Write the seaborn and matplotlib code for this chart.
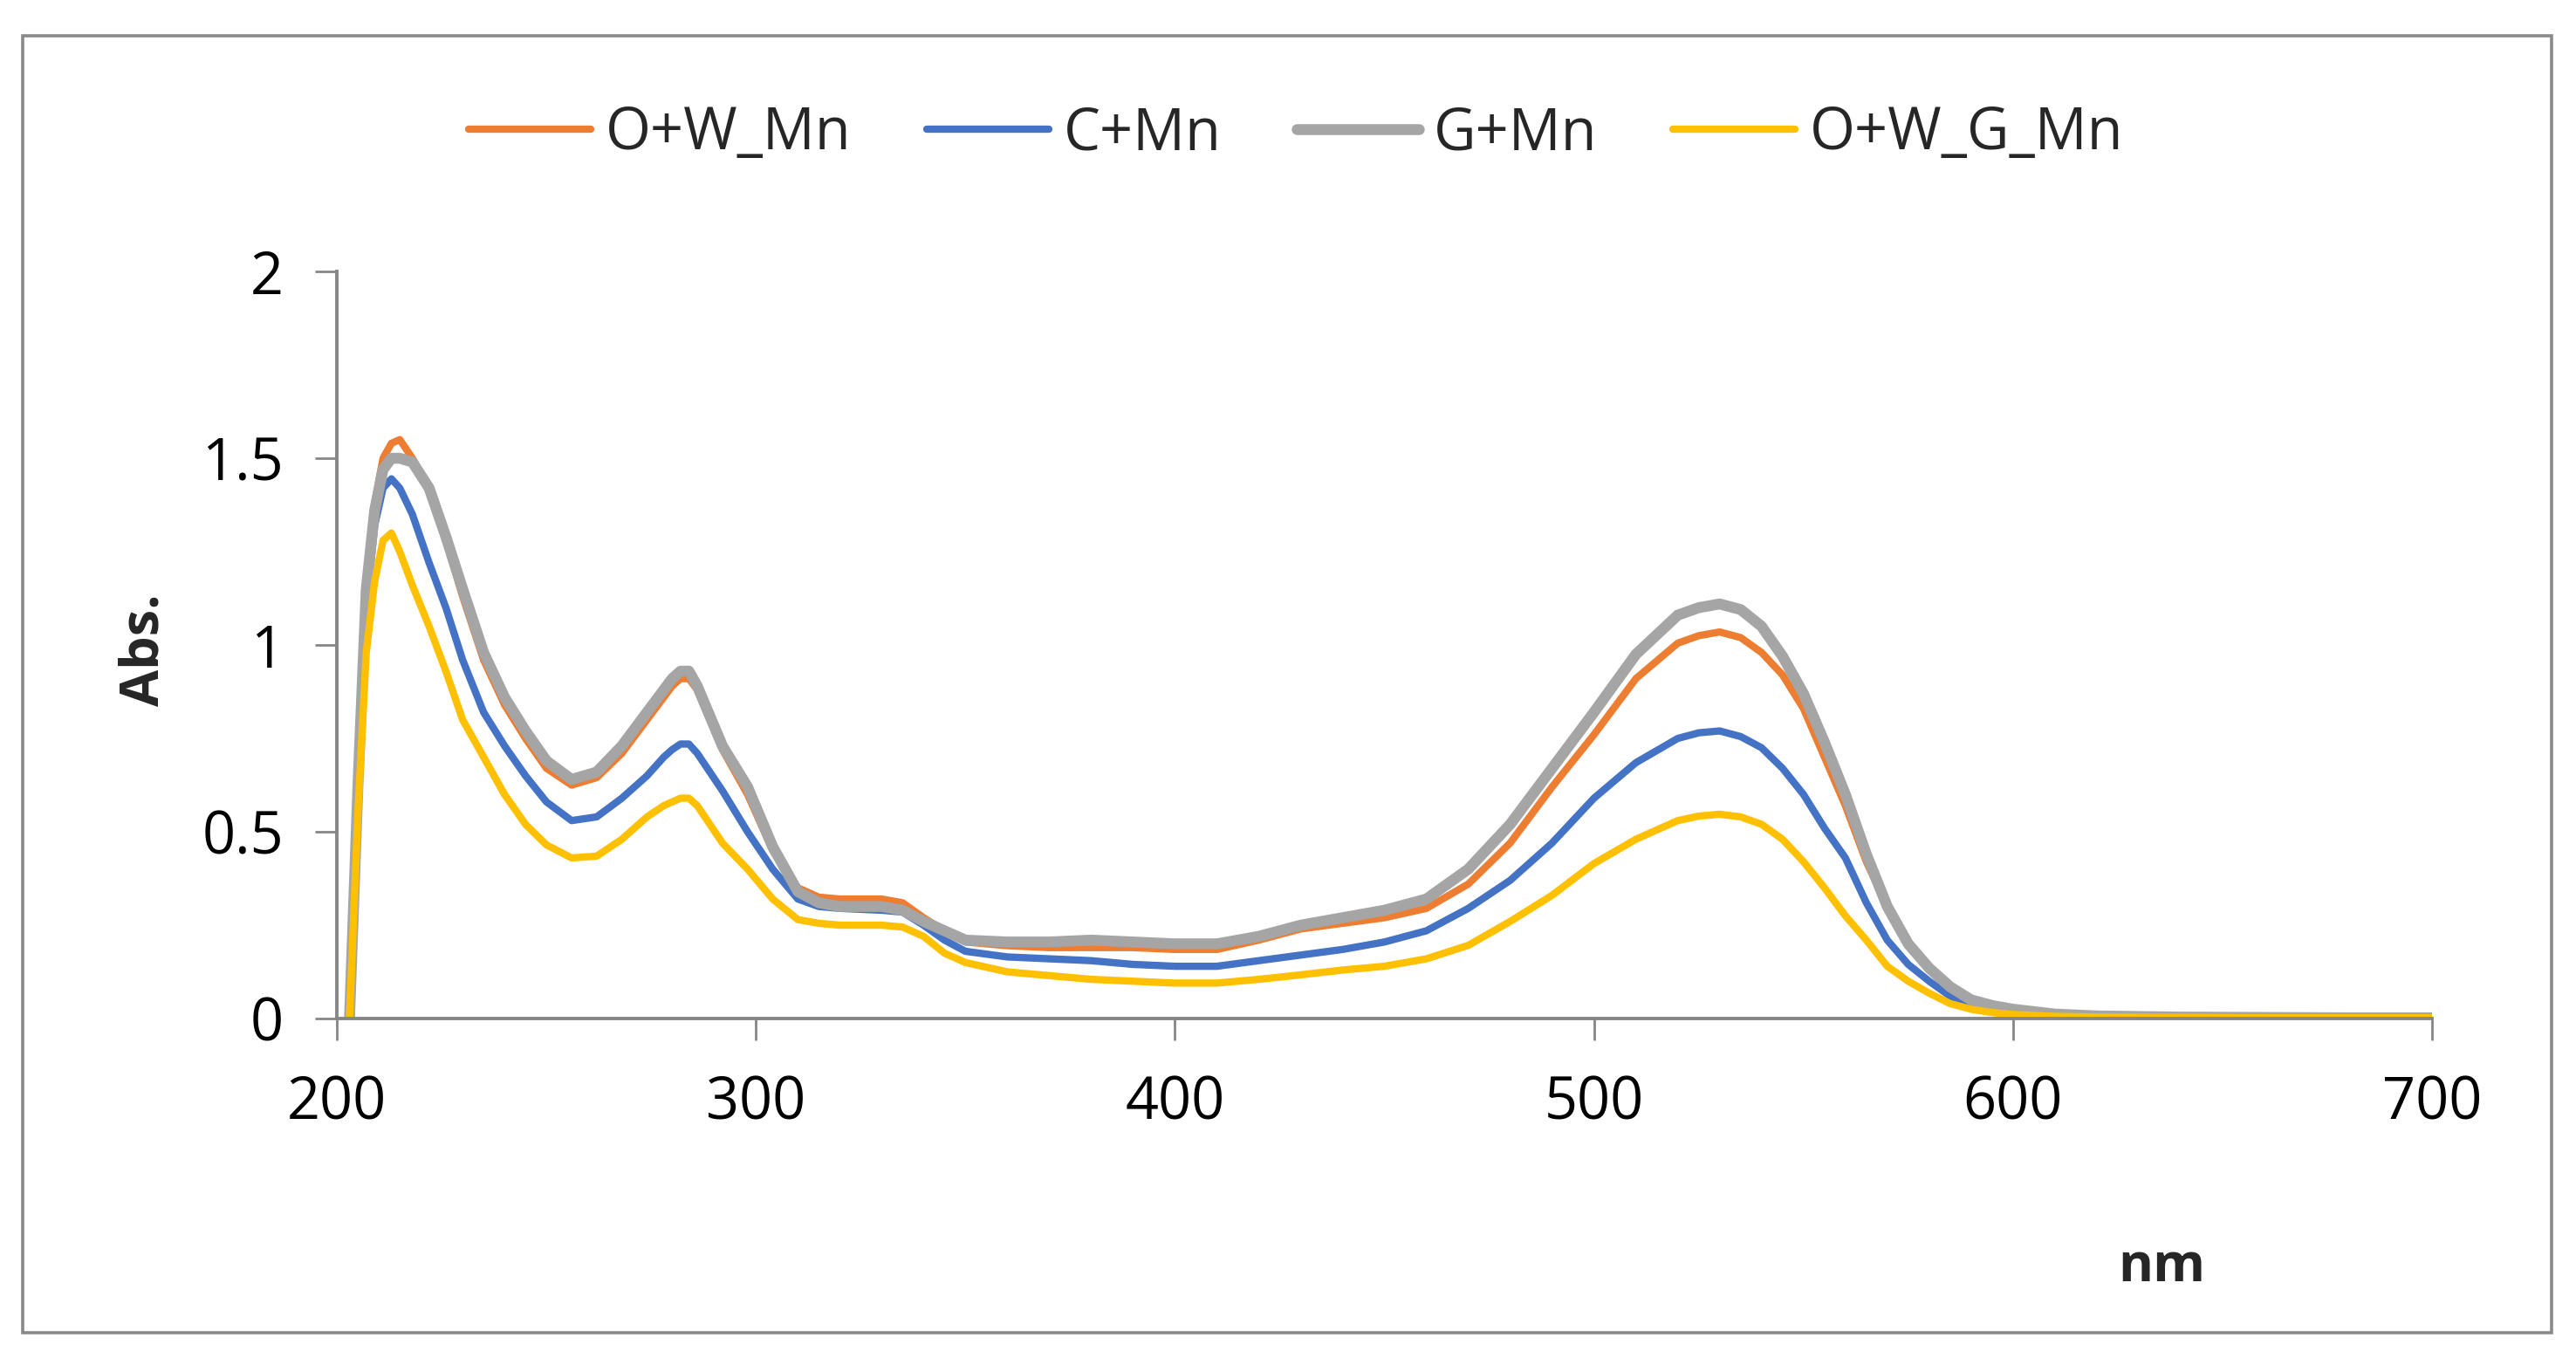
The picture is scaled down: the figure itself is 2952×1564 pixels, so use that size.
import matplotlib.pyplot as plt
import matplotlib as mpl
from matplotlib.patches import Rectangle
import pandas as pd
import seaborn as sns

# wavelength (nm) and absorbance
wavelength = [203, 205, 207, 209, 211, 213, 215, 218, 222, 226, 230, 235, 240, 245, 250,
              256, 262, 268, 274, 278, 280, 282, 284, 286, 292, 298, 304, 310, 315, 320, 330, 335,
              340, 345, 350, 360, 370, 380, 390, 400, 410, 420, 430, 440, 450, 460, 470,
              480, 490, 500, 510, 520, 525, 530, 535, 540, 545, 550, 555, 560, 565, 570,
              575, 580, 585, 590, 595, 600, 610, 620, 640, 660, 680, 700]

ow_mn = [0, 0.62, 1.15, 1.38, 1.50, 1.54, 1.55, 1.50, 1.42, 1.28, 1.13, 0.96, 0.84, 0.75, 0.67,
         0.625, 0.645, 0.71, 0.80, 0.86, 0.89, 0.91, 0.91, 0.88, 0.72, 0.60, 0.45, 0.35, 0.325, 0.32, 0.32, 0.31,
         0.27, 0.235, 0.205, 0.195, 0.19, 0.19, 0.19, 0.185, 0.185, 0.21, 0.24, 0.255, 0.27, 0.295, 0.36,
         0.47, 0.62, 0.76, 0.91, 1.005, 1.025, 1.035, 1.02, 0.98, 0.92, 0.83, 0.70, 0.57, 0.42, 0.30,
         0.20, 0.13, 0.08, 0.048, 0.032, 0.022, 0.011, 0.006, 0.004, 0.003, 0.002, 0.002]

c_mn = [0, 0.60, 1.10, 1.32, 1.42, 1.445, 1.42, 1.35, 1.22, 1.10, 0.96, 0.82, 0.73, 0.65, 0.58,
        0.53, 0.54, 0.59, 0.65, 0.70, 0.72, 0.735, 0.735, 0.71, 0.61, 0.50, 0.40, 0.32, 0.30, 0.295, 0.29, 0.285,
        0.25, 0.21, 0.18, 0.165, 0.16, 0.155, 0.145, 0.14, 0.14, 0.155, 0.17, 0.185, 0.205, 0.235, 0.295,
        0.37, 0.47, 0.59, 0.685, 0.75, 0.765, 0.77, 0.755, 0.725, 0.67, 0.60, 0.51, 0.43, 0.31, 0.21,
        0.145, 0.10, 0.06, 0.035, 0.022, 0.015, 0.008, 0.005, 0.003, 0.002, 0.002, 0.002]

g_mn = [0, 0.62, 1.15, 1.36, 1.47, 1.50, 1.50, 1.49, 1.42, 1.29, 1.15, 0.98, 0.86, 0.77, 0.69,
        0.64, 0.66, 0.73, 0.82, 0.88, 0.91, 0.93, 0.93, 0.89, 0.73, 0.62, 0.46, 0.34, 0.31, 0.30, 0.30, 0.29,
        0.26, 0.235, 0.21, 0.205, 0.205, 0.21, 0.205, 0.20, 0.20, 0.22, 0.25, 0.27, 0.29, 0.32, 0.40,
        0.52, 0.67, 0.82, 0.975, 1.08, 1.10, 1.11, 1.095, 1.05, 0.97, 0.87, 0.74, 0.60, 0.44, 0.30,
        0.20, 0.135, 0.085, 0.05, 0.035, 0.025, 0.012, 0.007, 0.004, 0.003, 0.002, 0.002]

owg_mn = [0, 0.55, 0.98, 1.17, 1.28, 1.30, 1.25, 1.16, 1.05, 0.93, 0.80, 0.70, 0.60, 0.52, 0.465,
          0.43, 0.435, 0.48, 0.54, 0.57, 0.58, 0.59, 0.59, 0.57, 0.47, 0.40, 0.32, 0.265, 0.255, 0.25, 0.25, 0.245,
          0.22, 0.175, 0.15, 0.125, 0.115, 0.105, 0.10, 0.095, 0.095, 0.105, 0.117, 0.13, 0.14, 0.16, 0.196,
          0.26, 0.33, 0.415, 0.48, 0.53, 0.542, 0.547, 0.54, 0.52, 0.48, 0.42, 0.35, 0.275, 0.21, 0.14,
          0.10, 0.068, 0.04, 0.025, 0.016, 0.011, 0.006, 0.004, 0.003, 0.002, 0.002, 0.002]

series = ["O+W_Mn", "C+Mn", "G+Mn", "O+W_G_Mn"]
colors = ["#ED7D31", "#4472C4", "#A5A5A5", "#FFC000"]
widths = [3.0, 3.0, 4.5, 3.0]

xticks = [200, 300, 400, 500, 600, 700]
yticks = [0, 0.5, 1, 1.5, 2]
ytick_labels = ["0", "0.5", "1", "1.5", "2"]

sns.set_theme(style="white")
plt.rcParams["font.family"] = ["Open Sans", "DejaVu Sans"]
plt.rcParams["lines.solid_joinstyle"] = "round"
plt.rcParams["lines.solid_capstyle"] = "round"
AXIS = "#868686"

fig = plt.figure(figsize=(14.76, 7.82), dpi=200)
ax = fig.add_axes([0.1308, 0.2538, 0.8133, 0.5473])

for name, vals, col, lw in zip(series, [ow_mn, c_mn, g_mn, owg_mn], colors, widths):
    df = pd.DataFrame({"nm": wavelength, "abs": vals})
    sns.lineplot(data=df, x="nm", y="abs", color=col, linewidth=lw, label=name, ax=ax)

ax.set_xlim(200, 700)
ax.set_ylim(0, 2)
ax.set_xticks(xticks)
ax.set_xticklabels([str(t) for t in xticks])
ax.set_yticks(yticks)
ax.set_yticklabels(ytick_labels)
ax.tick_params(axis="both", which="major", labelsize=24, colors=AXIS, labelcolor="black",
               length=9, width=1.0, direction="out", bottom=True, left=True)
ax.tick_params(axis="y", pad=13)
ax.tick_params(axis="x", pad=14)

for s in ["top", "right"]:
    ax.spines[s].set_visible(False)
for s in ["left", "bottom"]:
    ax.spines[s].set_color(AXIS)
    ax.spines[s].set_linewidth(1.4)
ax.spines["left"].set_zorder(0.5)

ax.set_ylabel("Abs.", fontsize=22, fontweight="bold", va="center")
ax.yaxis.set_label_coords(-0.0916, 0.494)
ax.set_xlabel("nm", fontsize=22, fontweight="bold", va="center")
ax.xaxis.set_label_coords(0.871, -0.334)

ax.legend(loc="center", bbox_to_anchor=(0.503, 0.902), bbox_transform=fig.transFigure,
          ncol=4, frameon=False, fontsize=24, handlelength=2.1, handletextpad=0.25,
          columnspacing=1.3)

fig.patches.append(Rectangle((26 / 2952, 1 - 1527 / 1564), (2924 - 26) / 2952, (1527 - 41) / 1564,
                             transform=fig.transFigure, fill=False, edgecolor="#8a8a8a",
                             linewidth=1.3))

fig.savefig("out.png", dpi=200)
